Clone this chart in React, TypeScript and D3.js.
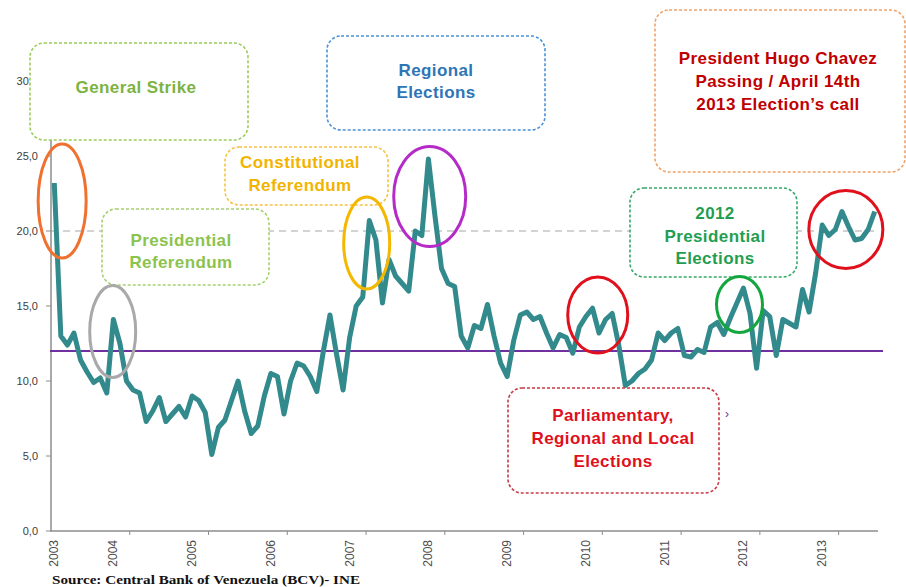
import { useEffect, useRef } from "react"
import * as d3 from "d3"

// monthly inflation (%), Apr 2003 .. Sep 2013
const months = d3.timeMonth.range(new Date(2003, 3, 1), new Date(2013, 9, 1))
const inflation = [
  23.2, 13.0, 12.4, 13.2, 11.4, 10.6, 9.9, 10.2, 9.2, 14.1,
  12.5, 10.0, 9.4, 9.2, 7.3, 8.0, 8.9, 7.3, 7.8, 8.3,
  7.6, 9.0, 8.7, 7.9, 5.1, 6.9, 7.4, 8.7, 10.0, 8.0,
  6.5, 7.0, 9.0, 10.5, 10.3, 7.8, 10.0, 11.2, 11.0, 10.3,
  9.3, 12.0, 14.4, 11.8, 9.4, 12.9, 15.0, 15.6, 20.7, 19.4,
  15.2, 18.1, 17.0, 16.5, 16.0, 20.0, 19.7, 24.8, 21.0, 17.5,
  16.5, 16.3, 13.0, 12.2, 13.7, 13.5, 15.1, 13.0, 11.2, 10.3,
  12.7, 14.4, 14.6, 14.1, 14.3, 13.2, 12.2, 13.1, 12.9, 11.85,
  13.6, 14.3, 14.85, 13.2, 14.1, 14.5, 12.4, 9.7, 10.0, 10.5,
  10.8, 11.4, 13.2, 12.7, 13.2, 13.5, 11.7, 11.6, 12.1, 11.9,
  13.6, 13.9, 13.1, 14.2, 15.2, 16.2, 14.5, 10.85, 14.7, 14.3,
  11.7, 14.1, 13.85, 13.6, 16.1, 14.6, 17.2, 20.4, 19.7, 20.1,
  21.3, 20.3, 19.4, 19.5, 20.1, 21.3,
]
const yTicks = [0, 5, 10, 15, 20, 25, 30]
const referenceLine = 12
const targetLine = 20

const notes = [
  { lines: ["General Strike"], stroke: "#9bcc5c", color: "#7cb342" },
  { lines: ["Regional", "Elections"], stroke: "#4a92d4", color: "#2e75b6" },
  { lines: ["President Hugo Chavez", "Passing / April 14th", "2013 Election\u2019s call"], stroke: "#f0a36a", color: "#c00000" },
  { lines: ["Constitutional", "Referendum"], stroke: "#f5c242", color: "#f2b400" },
  { lines: ["Presidential", "Referendum"], stroke: "#a5d16f", color: "#8cc34d" },
  { lines: ["2012", "Presidential", "Elections"], stroke: "#35a868", color: "#1f9e52" },
  { lines: ["Parliamentary,", "Regional and Local", "Elections"], stroke: "#c83a44", color: "#e0101c" },
]
// box geometry in pixels, same order as notes
const boxes = [
  { x: 30, y: 43, w: 218, h: 97, tx: 136, ty: [93] },
  { x: 327, y: 36, w: 218, h: 94, tx: 436, ty: [76, 98] },
  { x: 655, y: 10, w: 250, h: 162, tx: 778, ty: [64, 87, 110] },
  { x: 225, y: 147, w: 163, h: 58, tx: 300, ty: [168, 191] },
  { x: 102, y: 209, w: 167, h: 76, tx: 181, ty: [246, 268] },
  { x: 630, y: 188, w: 167, h: 89, tx: 715, ty: [219, 242, 264] },
  { x: 508, y: 388, w: 211, h: 105, tx: 613, ty: [421, 444, 467] },
]
// circled events: month index, value, radii in px
const rings = [
  { i: 1.2, v: 22.0, rx: 24, ry: 57, color: "#f07030" },
  { i: 8.9, v: 13.3, rx: 23, ry: 46, color: "#a9a9a9" },
  { i: 47.6, v: 19.2, rx: 23, ry: 46, color: "#f5b800" },
  { i: 57.2, v: 22.3, rx: 36, ry: 50, color: "#b42bc8" },
  { i: 82.8, v: 14.4, rx: 30, ry: 38, color: "#e0101c" },
  { i: 104.4, v: 15.1, rx: 23, ry: 28, color: "#13a63f" },
  { i: 120.6, v: 20.1, rx: 37, ry: 39, color: "#e0101c" },
]

export default function App() {
  const svgRef = useRef(null)

  useEffect(() => {
    const svg = d3.select(svgRef.current)
    svg.selectAll("*").remove()

    const x = d3.scaleLinear().domain([0, months.length]).range([51, 878])
    const y = d3.scaleLinear().domain([0, 30]).range([531, 81])
    const cx = (i) => x(i + 0.5)

    // y labels
    svg
      .append("g")
      .selectAll("text")
      .data(yTicks)
      .join("text")
      .attr("x", 38)
      .attr("y", (d) => y(d) + 4)
      .attr("text-anchor", "end")
      .attr("font-size", 11)
      .attr("fill", "#404040")
      .text((d) => d3.format(".1f")(d).replace(".", ","))

    svg
      .append("g")
      .selectAll("line")
      .data(yTicks)
      .join("line")
      .attr("x1", 46)
      .attr("x2", 51)
      .attr("y1", y)
      .attr("y2", y)
      .attr("stroke", "#8c8c8c")

    svg
      .append("line")
      .attr("x1", 51)
      .attr("x2", 877)
      .attr("y1", y(targetLine))
      .attr("y2", y(targetLine))
      .attr("stroke", "#c4c4c4")
      .attr("stroke-width", 1.5)
      .attr("stroke-dasharray", "7,5")

    // axes
    svg
      .append("line")
      .attr("x1", 51)
      .attr("x2", 51)
      .attr("y1", y(30))
      .attr("y2", y(0))
      .attr("stroke", "#8c8c8c")
      .attr("stroke-width", 1.5)
    svg
      .append("line")
      .attr("x1", 50)
      .attr("x2", 878)
      .attr("y1", y(0))
      .attr("y2", y(0))
      .attr("stroke", "#8c8c8c")
      .attr("stroke-width", 1.5)

    const tickIdx = d3.range(12, months.length, 12)
    svg
      .append("g")
      .selectAll("line")
      .data(tickIdx)
      .join("line")
      .attr("x1", x)
      .attr("x2", x)
      .attr("y1", y(0))
      .attr("y2", y(0) + 4)
      .attr("stroke", "#8c8c8c")

    const labelIdx = months
      .map((m, i) => (i === 0 || m.getMonth() === 0 ? i : -1))
      .filter((i) => i >= 0)
    svg
      .append("g")
      .selectAll("text")
      .data(labelIdx)
      .join("text")
      .attr("transform", (i) => `translate(${cx(i) + 4},${y(0) + 9}) rotate(-90)`)
      .attr("text-anchor", "end")
      .attr("font-size", 12)
      .attr("fill", "#4d4d4d")
      .text((i) => d3.timeFormat("%Y")(months[i]))

    svg
      .append("line")
      .attr("x1", 50)
      .attr("x2", 883)
      .attr("y1", y(referenceLine))
      .attr("y2", y(referenceLine))
      .attr("stroke", "#7030a0")
      .attr("stroke-width", 2)

    const lineGen = d3
      .line()
      .x((d, i) => cx(i))
      .y((d) => y(d))

    svg
      .append("path")
      .attr("d", lineGen(inflation))
      .attr("fill", "none")
      .attr("stroke", "#338a8c")
      .attr("stroke-width", 5)
      .attr("stroke-linejoin", "round")

    // callout boxes
    const g = svg.append("g").attr("font-weight", "bold").attr("font-size", 17)
    notes.forEach((n, k) => {
      const b = boxes[k]
      g.append("rect")
        .attr("x", b.x)
        .attr("y", b.y)
        .attr("width", b.w)
        .attr("height", b.h)
        .attr("rx", 14)
        .attr("fill", "#fff")
        .attr("stroke", n.stroke)
        .attr("stroke-width", 1.6)
        .attr("stroke-dasharray", "3,2")
      n.lines.forEach((t, j) => {
        g.append("text")
          .attr("x", b.tx)
          .attr("y", b.ty[j])
          .attr("text-anchor", "middle")
          .attr("fill", n.color)
          .attr("letter-spacing", 0.4)
          .text(t)
      })
    })

    svg
      .append("g")
      .selectAll("ellipse")
      .data(rings)
      .join("ellipse")
      .attr("cx", (d) => cx(d.i))
      .attr("cy", (d) => y(d.v))
      .attr("rx", (d) => d.rx)
      .attr("ry", (d) => d.ry)
      .attr("fill", "none")
      .attr("stroke", (d) => d.color)
      .attr("stroke-width", 3)

    svg
      .append("text")
      .attr("x", 725)
      .attr("y", 418)
      .attr("font-size", 12)
      .attr("fill", "#7030a0")
      .text("\u203a")

    svg
      .append("text")
      .attr("x", 52)
      .attr("y", 584)
      .attr("font-family", "'Liberation Serif', serif")
      .attr("font-weight", "bold")
      .attr("font-size", 12.5)
      .attr("textLength", 308)
      .attr("lengthAdjust", "spacingAndGlyphs")
      .attr("fill", "#111")
      .text("Source: Central Bank of Venezuela (BCV)- INE")
  }, [])

  return (
    <svg
      ref={svgRef}
      width={906}
      height={587}
      style={{ position: "absolute", left: 0, top: 0, background: "#fff", fontFamily: "'Liberation Sans', Arial, sans-serif" }}
    />
  )
}
